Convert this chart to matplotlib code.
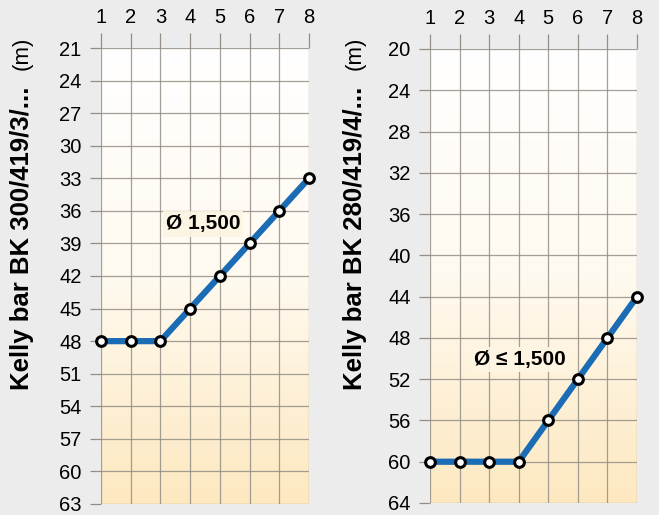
import matplotlib
matplotlib.use("Agg")
import matplotlib.pyplot as plt
import numpy as np
from matplotlib.colors import LinearSegmentedColormap

plt.rcParams["font.family"] = ["Liberation Sans", "DejaVu Sans"]

steps = [1, 2, 3, 4, 5, 6, 7, 8]

left_depth = [48, 48, 48, 45, 42, 39, 36, 33]
left_ticks = [21, 24, 27, 30, 33, 36, 39, 42, 45, 48, 51, 54, 57, 60, 63]
left_label = "Kelly bar BK 300/419/3/..."
left_note = r"Ø 1,500"

right_depth = [60, 60, 60, 60, 56, 52, 48, 44]
right_ticks = [20, 24, 28, 32, 36, 40, 44, 48, 52, 56, 60, 64]
right_label = "Kelly bar BK 280/419/4/..."
right_note = "Ø ≤ 1,500"

BG = "#ececec"
BLUE = "#1a6cb4"
GRID = "#948e86"
fill_cmap = LinearSegmentedColormap.from_list(
    "fill", ["#ffffff", "#fffaf0", "#fde8c0"])

W, H = 659, 515
fig = plt.figure(figsize=(W / 100, H / 100), dpi=100, facecolor=BG)


def px(x0, y0, x1, y1):
    return [x0 / W, 1 - y1 / H, (x1 - x0) / W, (y1 - y0) / H]


def panel(rect, depth, ticks, label, note, note_xy, label_x):
    ax = fig.add_axes(rect)
    ax.set_facecolor("none")
    lo, hi = ticks[0], ticks[-1]
    grad = np.linspace(0, 1, 256).reshape(-1, 1)
    ax.imshow(grad, extent=[steps[0], steps[-1], hi, lo], aspect="auto",
              cmap=fill_cmap, zorder=0, interpolation="bilinear")
    ax.set_xlim(steps[0], steps[-1])
    ax.set_ylim(hi, lo)
    ax.set_xticks(steps)
    ax.set_yticks(ticks)
    ax.xaxis.tick_top()
    ax.tick_params(axis="x", length=11, width=0.9, color=GRID, pad=4,
                   labelsize=14.5)
    ax.tick_params(axis="y", length=8, width=0.9, color=GRID, pad=6,
                   labelsize=14.5)
    for s in ax.spines.values():
        s.set_visible(False)
    ax.grid(True, color=GRID, linewidth=0.9, alpha=0.85, zorder=1)
    ax.plot(steps, depth, color=BLUE, linewidth=4.5, zorder=3,
            solid_capstyle="round", clip_on=False)
    ax.plot(steps, depth, linestyle="none", marker="o", markersize=7,
            markerfacecolor="white", markeredgecolor="black",
            markeredgewidth=2.2, zorder=4, clip_on=False)
    ax.text(note_xy[0], note_xy[1], note, fontsize=15, fontweight="bold",
            ha="center", va="center", zorder=5,
            bbox=dict(boxstyle="square,pad=0.15", facecolor="#fdf5e2",
                      edgecolor="none", alpha=0.9))
    fig.text(label_x / W, 1 - 390 / H, label, rotation=90, fontsize=18.5,
             fontweight="bold", ha="center", va="bottom")
    fig.text(label_x / W, 1 - 37 / H, "(m)", rotation=90, fontsize=16,
             ha="center", va="top")
    return ax


panel(px(101, 48, 309, 504), left_depth, left_ticks, left_label,
      left_note, (4.43, 37.2), 22)
panel(px(430, 49, 637, 503), right_depth, right_ticks, right_label,
      right_note, (4.05, 50.1), 355)

fig.savefig("out.png", dpi=100, facecolor=BG)
